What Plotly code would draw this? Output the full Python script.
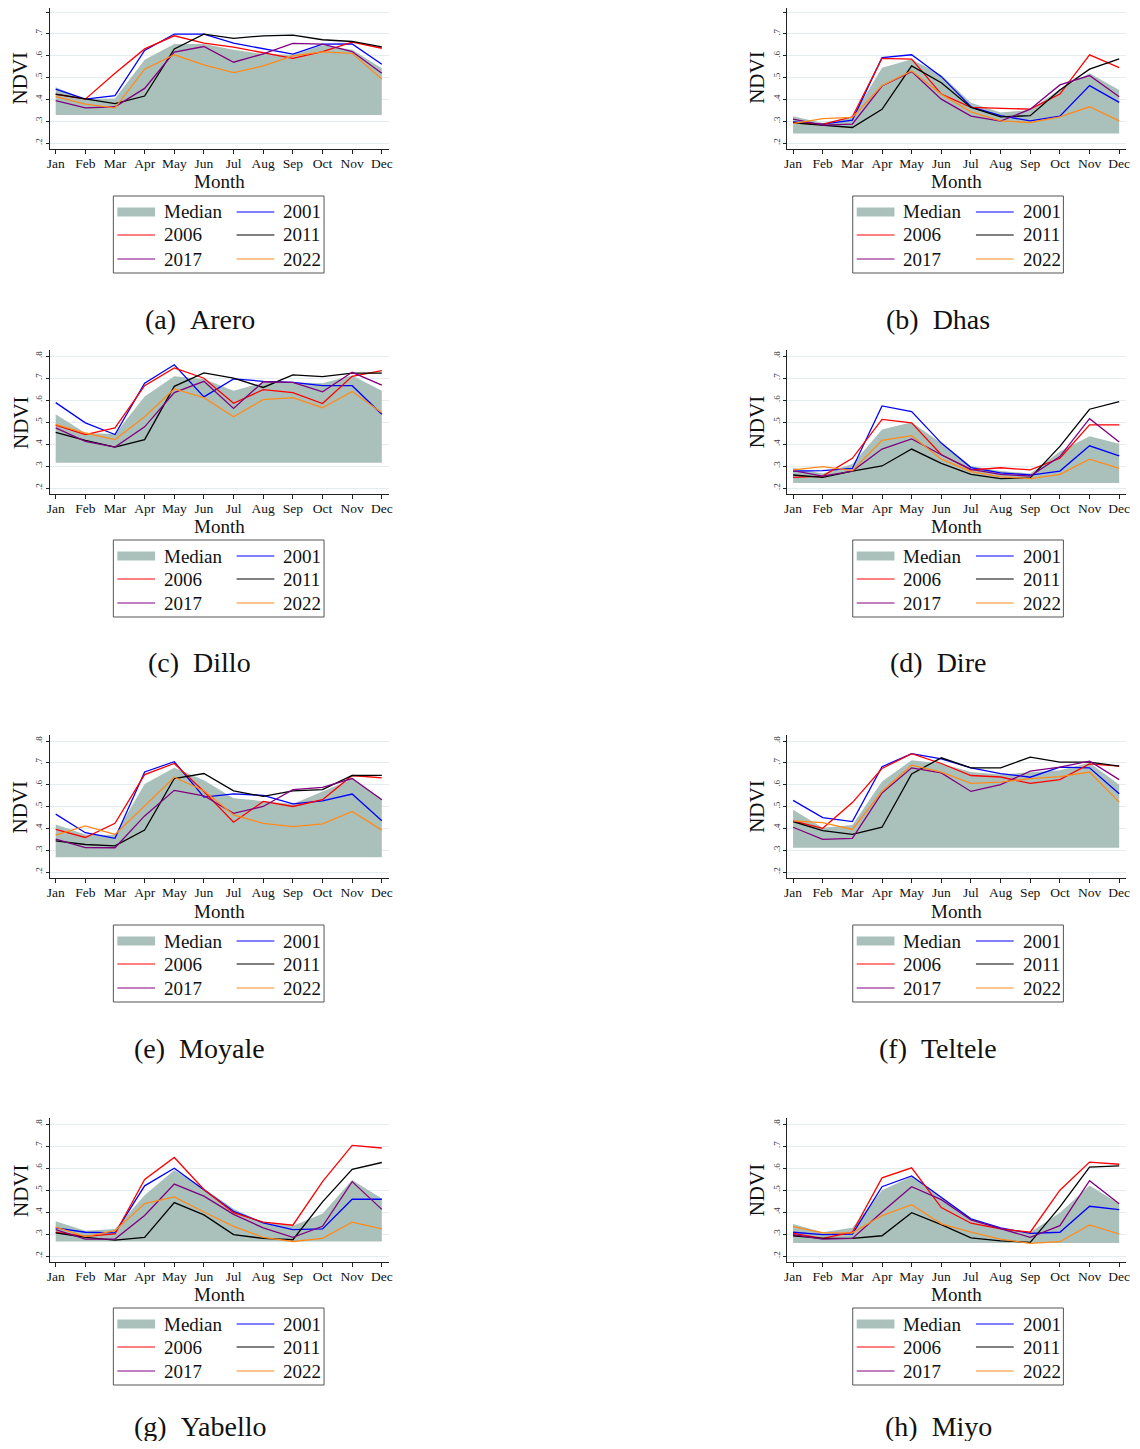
import plotly.graph_objects as go

# ---------------- data ----------------
months = ["Jan", "Feb", "Mar", "Apr", "May", "Jun", "Jul", "Aug", "Sep", "Oct", "Nov", "Dec"]
y_tickvals = [0.2, 0.3, 0.4, 0.5, 0.6, 0.7, 0.8]
y_ticktext = [".2", ".3", ".4", ".5", ".6", ".7", ".8"]
years = ["2001", "2006", "2011", "2017", "2022"]
year_colors = ["#0000ff", "#ff0000", "#000000", "#800080", "#ff8a1c"]
regions = ["Arero", "Dhas", "Dillo", "Dire", "Moyale", "Teltele", "Yabello", "Miyo"]
letters = ["a", "b", "c", "d", "e", "f", "g", "h"]
fill_base = [0.328, 0.243, 0.315, 0.223, 0.268, 0.311, 0.266, 0.259]

arero_median = [0.455, 0.401, 0.404, 0.581, 0.653, 0.653, 0.627, 0.608, 0.604, 0.648, 0.627, 0.542]
arero_2001 = [0.447, 0.401, 0.417, 0.624, 0.699, 0.699, 0.657, 0.631, 0.607, 0.653, 0.654, 0.561]
arero_2006 = [0.423, 0.401, 0.519, 0.631, 0.691, 0.657, 0.639, 0.614, 0.588, 0.619, 0.662, 0.634]
arero_2011 = [0.424, 0.401, 0.380, 0.415, 0.631, 0.699, 0.679, 0.691, 0.694, 0.673, 0.665, 0.640]
arero_2017 = [0.394, 0.361, 0.366, 0.450, 0.616, 0.642, 0.570, 0.608, 0.656, 0.653, 0.619, 0.519]
arero_2022 = [0.412, 0.378, 0.361, 0.538, 0.604, 0.558, 0.522, 0.553, 0.599, 0.617, 0.611, 0.493]

dhas_median = [0.323, 0.292, 0.320, 0.545, 0.584, 0.512, 0.384, 0.340, 0.351, 0.446, 0.519, 0.443]
dhas_2001 = [0.297, 0.286, 0.305, 0.591, 0.604, 0.504, 0.366, 0.325, 0.301, 0.323, 0.463, 0.386]
dhas_2006 = [0.294, 0.285, 0.320, 0.588, 0.584, 0.424, 0.363, 0.358, 0.355, 0.424, 0.604, 0.545]
dhas_2011 = [0.292, 0.282, 0.271, 0.354, 0.553, 0.476, 0.363, 0.320, 0.325, 0.443, 0.538, 0.585]
dhas_2017 = [0.309, 0.282, 0.286, 0.461, 0.527, 0.401, 0.323, 0.300, 0.355, 0.466, 0.509, 0.412]
dhas_2022 = [0.289, 0.312, 0.317, 0.463, 0.530, 0.423, 0.343, 0.301, 0.294, 0.320, 0.366, 0.301]

dillo_median = [0.535, 0.450, 0.446, 0.616, 0.708, 0.696, 0.642, 0.680, 0.680, 0.676, 0.711, 0.642]
dillo_2001 = [0.588, 0.496, 0.443, 0.676, 0.760, 0.614, 0.696, 0.685, 0.680, 0.665, 0.665, 0.535]
dillo_2006 = [0.486, 0.443, 0.473, 0.665, 0.746, 0.699, 0.585, 0.647, 0.634, 0.584, 0.708, 0.734]
dillo_2011 = [0.453, 0.417, 0.386, 0.420, 0.662, 0.723, 0.699, 0.657, 0.714, 0.706, 0.722, 0.722]
dillo_2017 = [0.473, 0.412, 0.386, 0.478, 0.634, 0.685, 0.562, 0.683, 0.680, 0.637, 0.726, 0.668]
dillo_2022 = [0.489, 0.450, 0.420, 0.524, 0.650, 0.611, 0.524, 0.602, 0.611, 0.565, 0.639, 0.542]

dire_median = [0.292, 0.266, 0.309, 0.466, 0.499, 0.404, 0.300, 0.277, 0.266, 0.366, 0.435, 0.401]
dire_2001 = [0.277, 0.279, 0.289, 0.573, 0.547, 0.404, 0.293, 0.269, 0.259, 0.277, 0.392, 0.346]
dire_2006 = [0.248, 0.254, 0.335, 0.512, 0.496, 0.351, 0.282, 0.292, 0.282, 0.335, 0.487, 0.487]
dire_2011 = [0.259, 0.248, 0.277, 0.300, 0.377, 0.312, 0.262, 0.243, 0.246, 0.389, 0.558, 0.593]
dire_2017 = [0.279, 0.254, 0.277, 0.377, 0.423, 0.351, 0.285, 0.262, 0.254, 0.343, 0.515, 0.409]
dire_2022 = [0.282, 0.297, 0.279, 0.417, 0.438, 0.331, 0.274, 0.251, 0.243, 0.262, 0.331, 0.289]

moyale_median = [0.418, 0.372, 0.369, 0.603, 0.677, 0.620, 0.538, 0.526, 0.512, 0.569, 0.626, 0.535]
moyale_2001 = [0.465, 0.380, 0.354, 0.658, 0.705, 0.543, 0.558, 0.551, 0.512, 0.526, 0.557, 0.435]
moyale_2006 = [0.395, 0.358, 0.423, 0.646, 0.697, 0.569, 0.428, 0.523, 0.500, 0.531, 0.642, 0.631]
moyale_2011 = [0.343, 0.326, 0.320, 0.392, 0.628, 0.651, 0.572, 0.546, 0.572, 0.577, 0.642, 0.643]
moyale_2017 = [0.351, 0.312, 0.311, 0.457, 0.574, 0.549, 0.469, 0.500, 0.577, 0.588, 0.628, 0.531]
moyale_2022 = [0.369, 0.411, 0.372, 0.503, 0.634, 0.572, 0.462, 0.423, 0.408, 0.420, 0.477, 0.392]

teltele_median = [0.485, 0.403, 0.415, 0.615, 0.712, 0.697, 0.658, 0.646, 0.657, 0.666, 0.700, 0.600]
teltele_2001 = [0.528, 0.449, 0.431, 0.682, 0.742, 0.718, 0.677, 0.651, 0.634, 0.680, 0.677, 0.558]
teltele_2006 = [0.434, 0.400, 0.518, 0.674, 0.742, 0.697, 0.642, 0.635, 0.606, 0.623, 0.695, 0.685]
teltele_2011 = [0.431, 0.389, 0.372, 0.405, 0.649, 0.723, 0.677, 0.677, 0.726, 0.703, 0.703, 0.685]
teltele_2017 = [0.405, 0.349, 0.354, 0.562, 0.677, 0.654, 0.569, 0.600, 0.662, 0.680, 0.708, 0.623]
teltele_2022 = [0.434, 0.426, 0.395, 0.569, 0.689, 0.657, 0.606, 0.612, 0.628, 0.637, 0.658, 0.520]

yabello_median = [0.358, 0.315, 0.323, 0.476, 0.591, 0.507, 0.415, 0.351, 0.338, 0.392, 0.545, 0.461]
yabello_2001 = [0.328, 0.308, 0.305, 0.519, 0.599, 0.499, 0.403, 0.351, 0.320, 0.323, 0.458, 0.458]
yabello_2006 = [0.308, 0.289, 0.300, 0.548, 0.648, 0.502, 0.397, 0.354, 0.340, 0.538, 0.703, 0.691]
yabello_2011 = [0.305, 0.285, 0.272, 0.285, 0.443, 0.387, 0.297, 0.280, 0.274, 0.446, 0.594, 0.625]
yabello_2017 = [0.320, 0.277, 0.277, 0.384, 0.527, 0.472, 0.389, 0.328, 0.285, 0.335, 0.538, 0.412]
yabello_2022 = [0.331, 0.288, 0.315, 0.438, 0.469, 0.400, 0.335, 0.285, 0.266, 0.280, 0.354, 0.323]

miyo_median = [0.346, 0.308, 0.328, 0.499, 0.561, 0.461, 0.369, 0.323, 0.308, 0.397, 0.521, 0.437]
miyo_2001 = [0.308, 0.297, 0.300, 0.515, 0.564, 0.466, 0.369, 0.328, 0.303, 0.308, 0.426, 0.411]
miyo_2006 = [0.303, 0.280, 0.308, 0.555, 0.601, 0.420, 0.349, 0.323, 0.308, 0.499, 0.627, 0.617]
miyo_2011 = [0.292, 0.280, 0.280, 0.292, 0.397, 0.343, 0.282, 0.269, 0.262, 0.423, 0.604, 0.610]
miyo_2017 = [0.297, 0.277, 0.280, 0.400, 0.515, 0.456, 0.364, 0.323, 0.285, 0.338, 0.542, 0.437]
miyo_2022 = [0.334, 0.305, 0.305, 0.384, 0.433, 0.346, 0.308, 0.277, 0.257, 0.265, 0.341, 0.300]

medians = [arero_median, dhas_median, dillo_median, dire_median,
           moyale_median, teltele_median, yabello_median, miyo_median]
year_series = [
    [arero_2001, arero_2006, arero_2011, arero_2017, arero_2022],
    [dhas_2001, dhas_2006, dhas_2011, dhas_2017, dhas_2022],
    [dillo_2001, dillo_2006, dillo_2011, dillo_2017, dillo_2022],
    [dire_2001, dire_2006, dire_2011, dire_2017, dire_2022],
    [moyale_2001, moyale_2006, moyale_2011, moyale_2017, moyale_2022],
    [teltele_2001, teltele_2006, teltele_2011, teltele_2017, teltele_2022],
    [yabello_2001, yabello_2006, yabello_2011, yabello_2017, yabello_2022],
    [miyo_2001, miyo_2006, miyo_2011, miyo_2017, miyo_2022],
]

# ---------------- layout geometry ----------------
# The page body has an 8px default margin, so the figure is 16px smaller
# than the window and all page-pixel positions are offset by 8px.
OFF = 8
W, H = 1140 - 2 * OFF, 1449 - 2 * OFF
FONT = "Liberation Serif"
FILL = "#aac1bb"


def X(px):
    return min(1.0, max(0.0, (px - OFF) / W))


def Y(py):
    return min(1.0, max(0.0, 1 - (py - OFF) / H))


col_left = [47, 789]
col_right = [388, 1130]
row_top = [6, 350, 735, 1118]
row_bot = [149, 494, 878, 1262]
row_off = [0, 344, 729, 1112]
caption_y = [319, 663, 1048, 1426]
ndvi_x = [18, 759]
caption_x = [198, 941]
legend_left = [111, 855]

fig = go.Figure()
shapes = []
annotations = []

for i, region in enumerate(regions):
    r, c = divmod(i, 2)
    xa = "x" if i == 0 else f"x{i + 1}"
    ya = "y" if i == 0 else f"y{i + 1}"
    idx = list(range(12))
    base = [fill_base[i]] * 12
    fig.add_trace(go.Scatter(
        x=idx + idx[::-1], y=medians[i] + base[::-1], fill="toself",
        fillcolor=FILL, line=dict(width=0), mode="lines",
        xaxis=xa, yaxis=ya, hoverinfo="skip", name="Median"))
    for k, yr in enumerate(years):
        fig.add_trace(go.Scatter(
            x=idx, y=year_series[i][k], mode="lines",
            line=dict(color=year_colors[k], width=1.3),
            xaxis=xa, yaxis=ya, name=yr))

    # y-range so that .8 sits 6px below the plot top and .2 sits 6px above the axis
    top_px = max(row_top[r], OFF)
    y80_px = row_top[r] + 6
    y20_px = row_bot[r] - 6
    per_px = 0.6 / (y20_px - y80_px)
    yr_lo = 0.2 - (row_bot[r] - y20_px) * per_px
    yr_hi = 0.8 + (y80_px - top_px) * per_px

    xkey = "xaxis" if i == 0 else f"xaxis{i + 1}"
    ykey = "yaxis" if i == 0 else f"yaxis{i + 1}"
    fig.layout[xkey] = dict(
        domain=[X(col_left[c]), X(col_right[c])], range=[-0.2, 11.23],
        anchor=ya, tickvals=idx, ticktext=months, showgrid=False, zeroline=False,
        showline=True, linecolor="#222", linewidth=1, ticks="outside", ticklen=4,
        tickcolor="#222", ticklabelstandoff=-2,
        tickfont=dict(family=FONT, size=13.5, color="#111"))
    fig.layout[ykey] = dict(
        domain=[Y(row_bot[r]), Y(top_px)], range=[yr_lo, yr_hi],
        anchor=xa, tickvals=y_tickvals, ticktext=y_ticktext, tickangle=-90,
        showgrid=True, gridcolor="#e3edef", gridwidth=1, zeroline=False,
        showline=True, linecolor="#222", linewidth=1, ticks="outside", ticklen=3,
        tickcolor="#222", tickfont=dict(family=FONT, size=9, color="#333"))

    # axis titles
    annotations.append(dict(
        x=X((col_left[c] + col_right[c]) / 2), y=Y(182 + row_off[r]), xref="paper", yref="paper",
        text="Month", showarrow=False, xanchor="center", yanchor="middle",
        font=dict(family=FONT, size=19, color="#111")))
    annotations.append(dict(
        x=X(ndvi_x[c]), y=Y((row_top[r] + row_bot[r]) / 2), xref="paper", yref="paper",
        text="NDVI", showarrow=False, textangle=-90, xanchor="center", yanchor="middle",
        font=dict(family=FONT, size=21, color="#111")))
    # caption
    annotations.append(dict(
        x=X(caption_x[c]), y=Y(caption_y[r]), xref="paper", yref="paper",
        text=f"({letters[i]})\u00a0\u00a0{region}", showarrow=False, xanchor="center", yanchor="middle",
        font=dict(family=FONT, size=28, color="#111")))

    # manual legend box
    lx = legend_left[c]
    ly = 196 + row_off[r]
    shapes.append(dict(type="rect", xref="paper", yref="paper",
                       x0=X(lx), x1=X(lx + 212), y0=Y(ly + 77), y1=Y(ly),
                       line=dict(color="#555", width=1), fillcolor="white"))
    entries = [("Median", None, 0, 0), (years[0], year_colors[0], 1, 0),
               (years[1], year_colors[1], 0, 1), (years[2], year_colors[2], 1, 1),
               (years[3], year_colors[3], 0, 2), (years[4], year_colors[4], 1, 2)]
    row_dy = [16, 39, 63]
    for label, col, cc, rr in entries:
        sx0 = lx + (4 if cc == 0 else 124)
        sy = ly + row_dy[rr]
        if col is None:
            shapes.append(dict(type="rect", xref="paper", yref="paper",
                               x0=X(sx0), x1=X(sx0 + 38), y0=Y(sy + 4.5), y1=Y(sy - 4.5),
                               line=dict(width=0), fillcolor=FILL))
        else:
            shapes.append(dict(type="line", xref="paper", yref="paper",
                               x0=X(sx0), x1=X(sx0 + 38), y0=Y(sy), y1=Y(sy),
                               line=dict(color=col, width=1)))
        annotations.append(dict(
            x=X(sx0 + 45), y=Y(sy), xref="paper", yref="paper", text=label,
            showarrow=False, xanchor="left", yanchor="middle",
            font=dict(family=FONT, size=19, color="#111")))

fig.update_layout(
    width=W, height=H, margin=dict(l=0, r=0, t=0, b=0),
    paper_bgcolor="white", plot_bgcolor="white", showlegend=False,
    shapes=shapes, annotations=annotations,
    font=dict(family=FONT),
)

fig.write_html("out.html")
